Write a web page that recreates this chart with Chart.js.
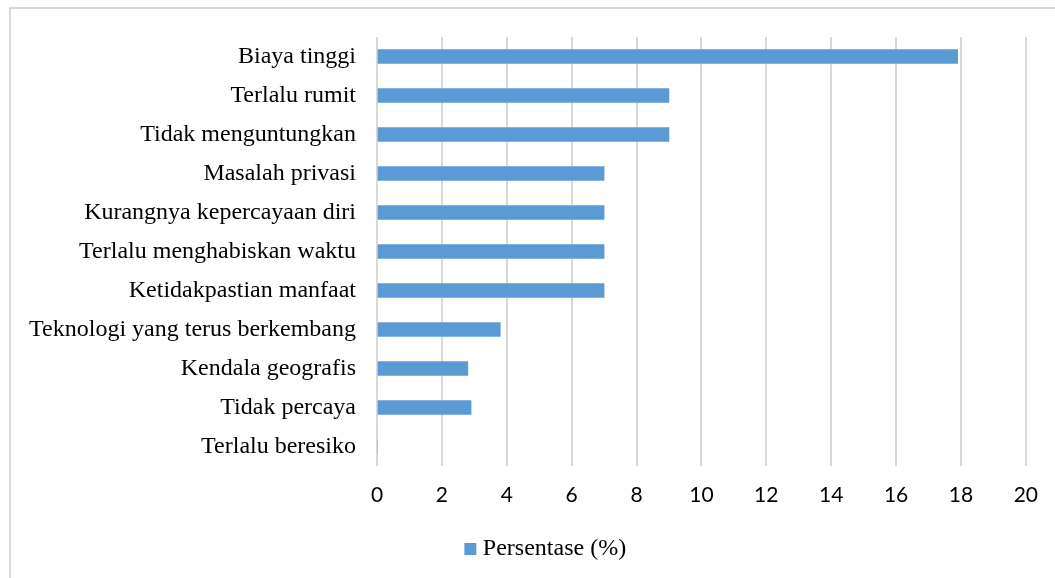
<!DOCTYPE html>
<html>
<head>
<meta charset="utf-8">
<script src="https://cdn.jsdelivr.net/npm/chart.js@4/dist/chart.umd.min.js"></script>
<style>
html,body{margin:0;padding:0;background:#fff;}
#wrap{position:absolute;left:0;top:0;width:1055px;height:578px;}
</style>
</head>
<body>
<div id="wrap"><canvas id="c" width="1055" height="578"></canvas></div>
<script>
const categories = [
  "Biaya tinggi",
  "Terlalu rumit",
  "Tidak menguntungkan",
  "Masalah privasi",
  "Kurangnya kepercayaan diri",
  "Terlalu menghabiskan waktu",
  "Ketidakpastian manfaat",
  "Teknologi yang terus berkembang",
  "Kendala geografis",
  "Tidak percaya",
  "Terlalu beresiko"
];
const persentase = [17.9, 9, 9, 7, 7, 7, 7, 3.8, 2.8, 2.9, 0];
const seriesName = "Persentase (%)";
const xTicks = [0, 2, 4, 6, 8, 10, 12, 14, 16, 18, 20];

const frame = {
  id: 'frame',
  beforeDraw(chart) {
    const ctx = chart.ctx;
    ctx.save();
    ctx.fillStyle = '#fff';
    ctx.fillRect(0, 0, chart.width, chart.height);
    ctx.strokeStyle = '#d9d9d9';
    ctx.lineWidth = 2;
    ctx.strokeRect(10, 8, 2000, 2000);
    ctx.restore();
  },
  afterLayout(chart) {
    if (chart.legend) {
      chart.legend.left += 35;
      chart.legend.right += 35;
    }
  }
};

new Chart(document.getElementById('c'), {
  type: 'bar',
  data: {
    labels: categories,
    datasets: [{
      label: seriesName,
      data: persentase,
      backgroundColor: '#5B9BD5',
      borderWidth: 0,
      barThickness: 14
    }]
  },
  plugins: [frame],
  options: {
    indexAxis: 'y',
    responsive: false,
    animation: false,
    devicePixelRatio: 1,
    layout: { padding: { top: 37, left: 0, right: 29, bottom: 7 } },
    plugins: {
      legend: {
        position: 'bottom',
        labels: {
          usePointStyle: true,
          pointStyle: 'rect',
          boxWidth: 1,
          boxHeight: 12,
          padding: 10,
          color: '#000',
          font: { family: '"Liberation Serif", "Times New Roman", serif', size: 24 }
        }
      },
      tooltip: { enabled: false }
    },
    scales: {
      x: {
        min: 0,
        max: 20,
        afterBuildTicks(scale) { scale.ticks = xTicks.map(v => ({ value: v })); },
        afterFit(scale) { scale.height = 61; },
        grid: { color: '#d9d9d9', lineWidth: 2, drawTicks: false },
        border: { display: false },
        ticks: {
          padding: 17,
          color: '#000',
          font: { family: 'Lato, "Liberation Sans", sans-serif', size: 21 }
        }
      },
      y: {
        afterFit(scale) { scale.width = 377; },
        grid: { display: false, drawTicks: false },
        border: { display: false },
        ticks: {
          padding: 21,
          color: '#000',
          autoSkip: false,
          font: { family: '"Liberation Serif", "Times New Roman", serif', size: 24 }
        }
      }
    }
  }
});
</script>
</body>
</html>
